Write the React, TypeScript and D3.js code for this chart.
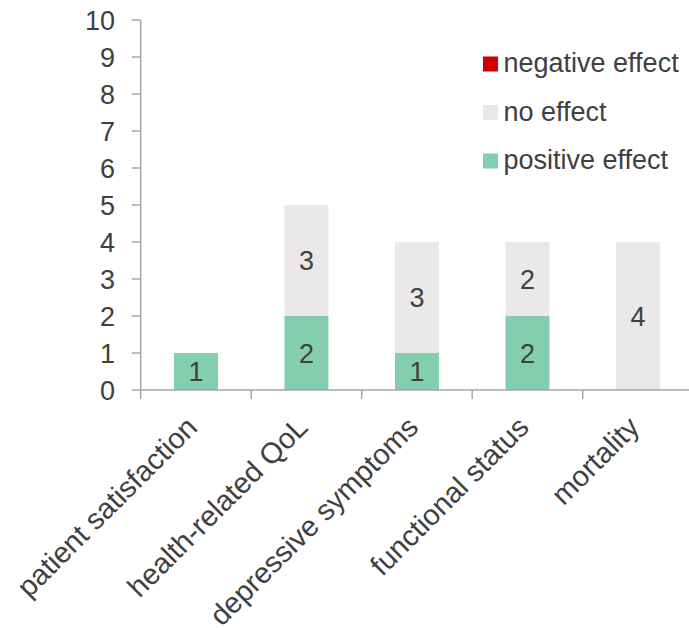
import React from "react";
import * as d3 from "d3";

const categories = [
  "patient satisfaction",
  "health-related QoL",
  "depressive symptoms",
  "functional status",
  "mortality",
];
const positiveEffect = [1, 2, 1, 2, 0];
const noEffect = [0, 3, 3, 2, 4];
const negativeEffect = [0, 0, 0, 0, 0];
const yTicks = [0, 1, 2, 3, 4, 5, 6, 7, 8, 9, 10];

const seriesNames = ["positive effect", "no effect", "negative effect"];
const colors: Record<string, string> = {
  "positive effect": "#84ceb0",
  "no effect": "#eae8e9",
  "negative effect": "#cc0000",
};
const legendOrder = ["negative effect", "no effect", "positive effect"];

const W = 689;
const H = 628;
const TEXT = "#404040";
const AXIS = "#a6a6a6";
const FONT = "'Liberation Sans', Arial, sans-serif";

export default function App() {
  const x0 = 140.7;
  const x1 = 693.2;
  const y = d3.scaleLinear().domain([0, 10]).range([390, 20]);
  const x = d3.scaleBand().domain(categories).range([x0, x1]).padding(0);
  const barW = 44;

  const table = categories.map((c, i) => ({
    cat: c,
    "positive effect": positiveEffect[i],
    "no effect": noEffect[i],
    "negative effect": negativeEffect[i],
  }));
  const stack = d3.stack<any>().keys(seriesNames)(table);

  return (
    <svg
      width={W}
      height={H}
      style={{ position: "absolute", left: 0, top: 0, background: "#fff" }}
      fontFamily={FONT}
    >
      {/* bars */}
      {stack.map((s) =>
        s.map((d, i) => {
          const v = d[1] - d[0];
          if (v <= 0) return null;
          const cx = (x(categories[i]) as number) + x.bandwidth() / 2;
          return (
            <g key={s.key + i}>
              <rect
                x={cx - barW / 2}
                y={y(d[1])}
                width={barW}
                height={y(d[0]) - y(d[1])}
                fill={colors[s.key]}
              />
              <text
                x={cx}
                y={(y(d[0]) + y(d[1])) / 2}
                dy="0.36em"
                textAnchor="middle"
                fontSize={27}
                fill={TEXT}
              >
                {v}
              </text>
            </g>
          );
        })
      )}

      {/* y axis */}
      <line x1={x0} x2={x0} y1={y(10)} y2={y(0)} stroke={AXIS} strokeWidth={1.5} />
      {yTicks.map((t) => (
        <g key={t}>
          <line x1={x0 - 9} x2={x0} y1={y(t)} y2={y(t)} stroke={AXIS} strokeWidth={1.5} />
          <text
            x={115}
            y={y(t)}
            dy="0.36em"
            textAnchor="end"
            fontSize={27}
            fill={TEXT}
          >
            {t}
          </text>
        </g>
      ))}

      {/* x axis */}
      <line x1={x0} x2={x1} y1={y(0)} y2={y(0)} stroke={AXIS} strokeWidth={1.5} />
      {categories.map((c) => (
        <line
          key={c}
          x1={x(c) as number}
          x2={x(c) as number}
          y1={y(0)}
          y2={y(0) + 9}
          stroke={AXIS}
          strokeWidth={1.5}
        />
      ))}
      {categories.map((c) => {
        const cx = (x(c) as number) + x.bandwidth() / 2;
        return (
          <text
            key={c}
            transform={`translate(${cx + 3},${y(0) + 39}) rotate(-45)`}
            textAnchor="end"
            fontSize={29}
            fill={TEXT}
          >
            {c}
          </text>
        );
      })}

      {/* legend */}
      {legendOrder.map((k, i) => (
        <g key={k} transform={`translate(483,${64 + i * 48.5})`}>
          <rect x={0} y={-7.5} width={15} height={15} fill={colors[k]} />
          <text x={20.5} y={0} dy="0.3em" fontSize={27} fill={TEXT}>
            {k}
          </text>
        </g>
      ))}
    </svg>
  );
}
